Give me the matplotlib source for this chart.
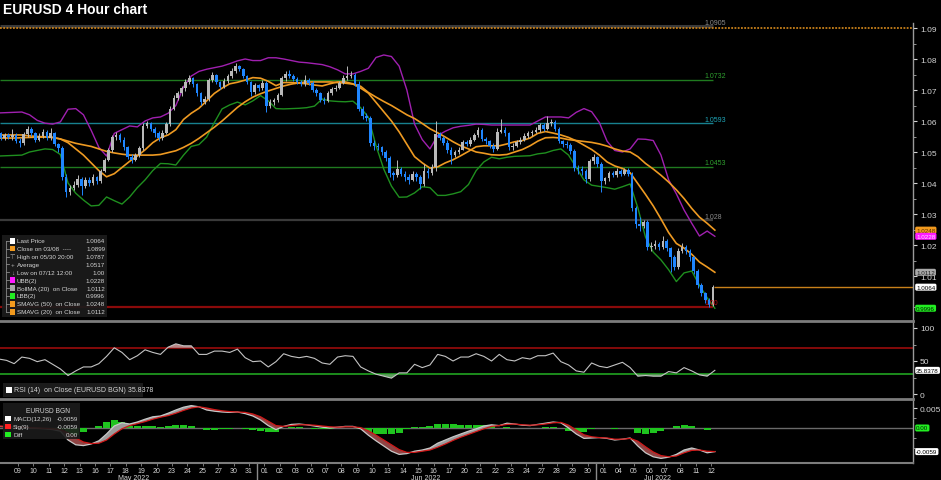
import numpy as np
import matplotlib
matplotlib.use("Agg")
import matplotlib.pyplot as plt
import matplotlib.transforms as mtransforms
from matplotlib.collections import LineCollection
from matplotlib.patches import Rectangle

plt.rcParams['font.family'] = ['Liberation Sans', 'DejaVu Sans']

# ----------------------------------------------------------------- data
TITLE = "EURUSD 4 Hour chart"
DAY_LABELS = ["09", "10", "11", "12", "13", "16", "17", "18", "19", "20", "23", "24", "25", "27", "30", "31",
              "01", "02", "03", "06", "07", "08", "09", "10", "13", "14", "15", "16", "17", "20", "21", "22",
              "23", "24", "27", "28", "29", "30",
              "01", "04", "05", "06", "07", "08", "11", "12"]
MONTH_LABELS = ["May 2022", "Jun 2022", "Jul 2022"]
MONTH_START = [0, 16, 38]          # index of first labelled session of each month
FIRST_DAY = -1                     # bars start one session before the first label

OPEN0 = 1.0552
CLOSE = [
    1.0560, 1.0545, 1.0555, 1.0548,   # May 06
    1.0555, 1.0535, 1.0528, 1.0558,   # May 09
    1.0575, 1.0560, 1.0540, 1.0552,
    1.0565, 1.0545, 1.0560, 1.0525,
    1.0512, 1.0420, 1.0372, 1.0385,
    1.0395, 1.0412, 1.0390, 1.0410,
    1.0400, 1.0418, 1.0405, 1.0438,
    1.0475, 1.0505, 1.0548, 1.0555,
    1.0540, 1.0515, 1.0485, 1.0475,
    1.0490, 1.0512, 1.0585, 1.0592,
    1.0575, 1.0560, 1.0545, 1.0562,
    1.0590, 1.0640, 1.0675, 1.0690,
    1.0705, 1.0725, 1.0738, 1.0718,
    1.0690, 1.0660, 1.0672, 1.0732,
    1.0748, 1.0725, 1.0710, 1.0730,
    1.0745, 1.0762, 1.0778, 1.0768,
    1.0745, 1.0725, 1.0692, 1.0715,
    1.0705, 1.0722, 1.0650, 1.0662,   # Jun 01
    1.0668, 1.0685, 1.0738, 1.0752,
    1.0745, 1.0735, 1.0725, 1.0720,
    1.0732, 1.0722, 1.0700, 1.0690,
    1.0668, 1.0665, 1.0690, 1.0702,
    1.0708, 1.0722, 1.0740, 1.0745,
    1.0750, 1.0720, 1.0640, 1.0615,
    1.0610, 1.0528, 1.0520, 1.0515,
    1.0500, 1.0480, 1.0432, 1.0425,
    1.0445, 1.0430, 1.0420, 1.0410,
    1.0430, 1.0418, 1.0398, 1.0440,
    1.0432, 1.0452, 1.0558, 1.0545,
    1.0530, 1.0508, 1.0490, 1.0500,
    1.0508, 1.0532, 1.0525, 1.0540,
    1.0555, 1.0572, 1.0542, 1.0535,
    1.0520, 1.0510, 1.0565, 1.0572,
    1.0560, 1.0515, 1.0520, 1.0532,
    1.0540, 1.0552, 1.0560, 1.0565,
    1.0572, 1.0588, 1.0575, 1.0592,
    1.0598, 1.0575, 1.0535, 1.0525,
    1.0522, 1.0502, 1.0450, 1.0445,
    1.0438, 1.0412, 1.0470, 1.0485,
    1.0460, 1.0405, 1.0415, 1.0432,   # Jul 01
    1.0425, 1.0438, 1.0430, 1.0442,
    1.0430, 1.0318, 1.0268, 1.0262,
    1.0275, 1.0192, 1.0196, 1.0202,
    1.0195, 1.0212, 1.0190, 1.0160,
    1.0128, 1.0182, 1.0195, 1.0180,
    1.0160, 1.0115, 1.0070, 1.0045,
    1.0022, 1.0008, 1.0064,           # Jul 12
]
HIGH = [
    1.0572, 1.0565, 1.0562, 1.0560,
    1.0575, 1.0560, 1.0545, 1.0565,
    1.0585, 1.0580, 1.0565, 1.0560,
    1.0575, 1.0570, 1.0578, 1.0565,
    1.0530, 1.0518, 1.0428, 1.0392,
    1.0405, 1.0425, 1.0418, 1.0420,
    1.0420, 1.0428, 1.0422, 1.0445,
    1.0482, 1.0512, 1.0555, 1.0565,
    1.0560, 1.0548, 1.0520, 1.0495,
    1.0498, 1.0520, 1.0592, 1.0600,
    1.0598, 1.0582, 1.0568, 1.0570,
    1.0598, 1.0648, 1.0685, 1.0697,
    1.0712, 1.0735, 1.0748, 1.0742,
    1.0722, 1.0695, 1.0680, 1.0740,
    1.0758, 1.0752, 1.0730, 1.0738,
    1.0752, 1.0770, 1.0787, 1.0782,
    1.0772, 1.0750, 1.0730, 1.0722,
    1.0720, 1.0732, 1.0728, 1.0670,
    1.0675, 1.0690, 1.0745, 1.0760,
    1.0764, 1.0752, 1.0742, 1.0732,
    1.0750, 1.0740, 1.0728, 1.0705,
    1.0695, 1.0678, 1.0698, 1.0710,
    1.0715, 1.0730, 1.0748, 1.0778,
    1.0762, 1.0755, 1.0728, 1.0648,
    1.0625, 1.0615, 1.0540, 1.0530,
    1.0520, 1.0508, 1.0488, 1.0440,
    1.0475, 1.0452, 1.0440, 1.0430,
    1.0438, 1.0435, 1.0425, 1.0462,
    1.0450, 1.0462, 1.0600, 1.0565,
    1.0552, 1.0538, 1.0515, 1.0508,
    1.0515, 1.0540, 1.0538, 1.0548,
    1.0562, 1.0582, 1.0578, 1.0550,
    1.0540, 1.0528, 1.0578, 1.0606,
    1.0580, 1.0565, 1.0528, 1.0540,
    1.0548, 1.0560, 1.0568, 1.0572,
    1.0580, 1.0595, 1.0592, 1.0615,
    1.0605, 1.0602, 1.0580, 1.0540,
    1.0535, 1.0528, 1.0510, 1.0458,
    1.0455, 1.0445, 1.0478, 1.0492,
    1.0488, 1.0468, 1.0420, 1.0440,
    1.0440, 1.0448, 1.0445, 1.0450,
    1.0450, 1.0435, 1.0325, 1.0290,
    1.0282, 1.0280, 1.0210, 1.0215,
    1.0210, 1.0228, 1.0220, 1.0195,
    1.0168, 1.0190, 1.0205, 1.0200,
    1.0188, 1.0165, 1.0122, 1.0078,
    1.0050, 1.0030, 1.0072,
]
LOW = [
    1.0545, 1.0538, 1.0540, 1.0542,
    1.0540, 1.0528, 1.0515, 1.0522,
    1.0550, 1.0552, 1.0532, 1.0535,
    1.0545, 1.0538, 1.0540, 1.0518,
    1.0500, 1.0410, 1.0355, 1.0362,
    1.0378, 1.0388, 1.0360, 1.0385,
    1.0390, 1.0395, 1.0398, 1.0400,
    1.0435, 1.0470, 1.0500, 1.0540,
    1.0532, 1.0505, 1.0478, 1.0465,
    1.0470, 1.0485, 1.0505, 1.0578,
    1.0568, 1.0550, 1.0535, 1.0540,
    1.0558, 1.0585, 1.0635, 1.0668,
    1.0682, 1.0698, 1.0718, 1.0710,
    1.0682, 1.0652, 1.0655, 1.0665,
    1.0725, 1.0718, 1.0702, 1.0705,
    1.0722, 1.0740, 1.0755, 1.0760,
    1.0738, 1.0718, 1.0682, 1.0688,
    1.0698, 1.0700, 1.0630, 1.0642,
    1.0652, 1.0660, 1.0680, 1.0730,
    1.0738, 1.0728, 1.0718, 1.0712,
    1.0712, 1.0715, 1.0692, 1.0682,
    1.0660, 1.0654, 1.0660, 1.0685,
    1.0698, 1.0702, 1.0718, 1.0732,
    1.0738, 1.0712, 1.0632, 1.0605,
    1.0600, 1.0520, 1.0505, 1.0505,
    1.0490, 1.0470, 1.0420, 1.0410,
    1.0418, 1.0422, 1.0405, 1.0398,
    1.0405, 1.0405, 1.0380, 1.0390,
    1.0415, 1.0425, 1.0440, 1.0538,
    1.0522, 1.0498, 1.0460, 1.0485,
    1.0495, 1.0505, 1.0518, 1.0520,
    1.0535, 1.0550, 1.0535, 1.0525,
    1.0512, 1.0500, 1.0505, 1.0560,
    1.0552, 1.0508, 1.0505, 1.0515,
    1.0525, 1.0535, 1.0545, 1.0552,
    1.0560, 1.0565, 1.0568, 1.0570,
    1.0585, 1.0568, 1.0528, 1.0515,
    1.0512, 1.0495, 1.0440, 1.0430,
    1.0425, 1.0400, 1.0405, 1.0462,
    1.0452, 1.0372, 1.0398, 1.0408,
    1.0418, 1.0420, 1.0422, 1.0425,
    1.0422, 1.0310, 1.0255, 1.0245,
    1.0255, 1.0185, 1.0180, 1.0188,
    1.0185, 1.0188, 1.0182, 1.0112,
    1.0120, 1.0122, 1.0175, 1.0172,
    1.0150, 1.0105, 1.0062, 1.0035,
    1.0012, 1.0000, 1.0002,
]

# indicator readings, two per session (from the session before May 09 to Jul 12)
UBB = [1.0626, 1.0627, 1.0628, 1.0629, 1.0620, 1.0602, 1.0593, 1.0590, 1.0597, 1.0638,
       1.0640, 1.0620, 1.0570, 1.0515, 1.0487, 1.0560, 1.0572, 1.0584, 1.0581, 1.0600,
       1.0610, 1.0613, 1.0625, 1.0650, 1.0710, 1.0745, 1.0760, 1.0767, 1.0772, 1.0777,
       1.0785, 1.0794, 1.0800, 1.0795, 1.0795, 1.0804, 1.0804, 1.0800, 1.0795, 1.0790,
       1.0788, 1.0785, 1.0782, 1.0775, 1.0765, 1.0752, 1.0752, 1.0760, 1.0770, 1.0805,
       1.0813, 1.0808, 1.0777, 1.0700, 1.0590, 1.0540, 1.0510, 1.0553, 1.0567, 1.0578,
       1.0583, 1.0586, 1.0590, 1.0589, 1.0587, 1.0587, 1.0587, 1.0587, 1.0587, 1.0587,
       1.0600, 1.0613, 1.0613, 1.0613, 1.0610, 1.0628, 1.0640, 1.0630, 1.0595, 1.0535,
       1.0505, 1.0500, 1.0510, 1.0542, 1.0541, 1.0537, 1.0490, 1.0410, 1.0365, 1.0313,
       1.0270, 1.0229, 1.0245, 1.0228]
LBB = [1.0487, 1.0488, 1.0489, 1.0490, 1.0500, 1.0505, 1.0510, 1.0508, 1.0492, 1.0400,
       1.0367, 1.0345, 1.0326, 1.0328, 1.0355, 1.0343, 1.0332, 1.0355, 1.0385, 1.0410,
       1.0440, 1.0463, 1.0462, 1.0458, 1.0490, 1.0518, 1.0524, 1.0548, 1.0595, 1.0639,
       1.0652, 1.0661, 1.0652, 1.0665, 1.0682, 1.0665, 1.0640, 1.0639, 1.0640, 1.0641,
       1.0643, 1.0648, 1.0671, 1.0665, 1.0663, 1.0662, 1.0664, 1.0643, 1.0612, 1.0520,
       1.0445, 1.0390, 1.0354, 1.0355, 1.0368, 1.0388, 1.0385, 1.0360, 1.0360, 1.0365,
       1.0372, 1.0395, 1.0440, 1.0468, 1.0483, 1.0478, 1.0483, 1.0486, 1.0487, 1.0488,
       1.0494, 1.0497, 1.0505, 1.0510, 1.0490, 1.0450, 1.0410, 1.0393, 1.0389, 1.0385,
       1.0380, 1.0388, 1.0397, 1.0320, 1.0225, 1.0177, 1.0152, 1.0120, 1.0082, 1.0110,
       1.0116, 1.0070, 1.0030, 0.9996]
SMA20 = [1.0555, 1.0555, 1.0555, 1.0555, 1.0552, 1.0550, 1.0549, 1.0547, 1.0542, 1.0530,
         1.0510, 1.0490, 1.0465, 1.0440, 1.0420, 1.0430, 1.0450, 1.0470, 1.0487, 1.0507,
         1.0530, 1.0546, 1.0555, 1.0572, 1.0605, 1.0625, 1.0641, 1.0665, 1.0689, 1.0706,
         1.0720, 1.0725, 1.0732, 1.0740, 1.0738, 1.0728, 1.0714, 1.0724, 1.0724, 1.0722,
         1.0720, 1.0716, 1.0713, 1.0720, 1.0726, 1.0726, 1.0720, 1.0706, 1.0690, 1.0660,
         1.0630, 1.0600, 1.0565, 1.0525, 1.0485, 1.0465, 1.0448, 1.0452, 1.0465, 1.0475,
         1.0488, 1.0502, 1.0517, 1.0520, 1.0520, 1.0520, 1.0526, 1.0533, 1.0537, 1.0545,
         1.0560, 1.0566, 1.0561, 1.0555, 1.0547, 1.0536, 1.0522, 1.0508, 1.0490, 1.0468,
         1.0455, 1.0447, 1.0433, 1.0398, 1.0363, 1.0326, 1.0284, 1.0240, 1.0205, 1.0190,
         1.0170, 1.0145, 1.0129, 1.0112]
SMA50 = [1.0545, 1.0545, 1.0545, 1.0546, 1.0547, 1.0548, 1.0548, 1.0547, 1.0542, 1.0535,
         1.0528, 1.0523, 1.0518, 1.0510, 1.0502, 1.0497, 1.0493, 1.0490, 1.0490, 1.0490,
         1.0490, 1.0492, 1.0498, 1.0504, 1.0515, 1.0528, 1.0544, 1.0562, 1.0580, 1.0600,
         1.0622, 1.0644, 1.0662, 1.0677, 1.0688, 1.0697, 1.0705, 1.0713, 1.0719, 1.0723,
         1.0726, 1.0726, 1.0726, 1.0726, 1.0724, 1.0722, 1.0719, 1.0712, 1.0692, 1.0677,
         1.0663, 1.0650, 1.0635, 1.0620, 1.0608, 1.0592, 1.0575, 1.0562, 1.0548, 1.0533,
         1.0520, 1.0510, 1.0500, 1.0496, 1.0491, 1.0490, 1.0492, 1.0500, 1.0508, 1.0520,
         1.0535, 1.0546, 1.0547, 1.0545, 1.0540, 1.0537, 1.0534, 1.0531, 1.0526, 1.0519,
         1.0510, 1.0503, 1.0500, 1.0485, 1.0463, 1.0445, 1.0425, 1.0403, 1.0378, 1.0350,
         1.0318, 1.0290, 1.0270, 1.0248]
RSI = [53, 51, 46, 56, 54, 49, 52, 45, 38, 28,
       35, 41, 41, 46, 57, 70, 63, 52, 58, 67,
       63, 60, 71, 76, 73, 73, 60, 60, 65, 65,
       63, 68, 55, 49, 50, 41, 49, 61, 57, 55,
       57, 54, 47, 45, 56, 58, 57, 41, 35, 30,
       27, 24, 32, 32, 45, 40, 44, 60, 57, 50,
       56, 56, 61, 57, 50, 60, 52, 50, 55, 53,
       58, 58, 62, 49, 44, 35, 33, 47, 42, 40,
       44, 48, 40, 27, 28, 27, 27, 34, 32, 40,
       35, 29, 27, 35.8378]
MACD = [0.0004, 0.0003, 0.0002, 0.0001, 0.0000, -0.0001, -0.0002, -0.0004, -0.0008, -0.0030,
        -0.0042, -0.0044, -0.0040, -0.0032, -0.0015, 0.0005, 0.0013, 0.0010, 0.0015, 0.0022,
        0.0028, 0.0030, 0.0037, 0.0045, 0.0052, 0.0056, 0.0053, 0.0045, 0.0042, 0.0040,
        0.0039, 0.0040, 0.0036, 0.0030, 0.0020, 0.0006, -0.0004, 0.0004, 0.0009, 0.0010,
        0.0008, 0.0005, 0.0002, 0.0000, 0.0002, 0.0004, 0.0004, -0.0002, -0.0018, -0.0032,
        -0.0045, -0.0058, -0.0066, -0.0064, -0.0058, -0.0055, -0.0050, -0.0038, -0.0030, -0.0022,
        -0.0015, -0.0008, -0.0002, 0.0005, 0.0008, 0.0006, 0.0012, 0.0010, 0.0007, 0.0006,
        0.0009, 0.0012, 0.0015, 0.0013, 0.0000, -0.0015, -0.0026, -0.0025, -0.0024, -0.0026,
        -0.0030, -0.0028, -0.0025, -0.0045, -0.0062, -0.0072, -0.0076, -0.0073, -0.0066, -0.0055,
        -0.0050, -0.0055, -0.0062, -0.0059]
SIG = [0.0005, 0.0004, 0.0003, 0.0002, 0.0001, 0.0000, -0.0001, -0.0002, -0.0004, -0.0012,
       -0.0025, -0.0035, -0.0039, -0.0038, -0.0030, -0.0015, -0.0002, 0.0006, 0.0011, 0.0016,
       0.0022, 0.0027, 0.0031, 0.0037, 0.0044, 0.0050, 0.0053, 0.0050, 0.0046, 0.0043,
       0.0041, 0.0040, 0.0039, 0.0035, 0.0028, 0.0017, 0.0006, 0.0004, 0.0006, 0.0008,
       0.0008, 0.0007, 0.0005, 0.0003, 0.0002, 0.0003, 0.0003, 0.0001, -0.0007, -0.0018,
       -0.0030, -0.0042, -0.0054, -0.0061, -0.0061, -0.0058, -0.0055, -0.0048, -0.0040, -0.0031,
       -0.0023, -0.0016, -0.0009, -0.0002, 0.0004, 0.0006, 0.0009, 0.0010, 0.0008, 0.0007,
       0.0008, 0.0010, 0.0013, 0.0014, 0.0007, -0.0005, -0.0017, -0.0022, -0.0024, -0.0025,
       -0.0028, -0.0028, -0.0026, -0.0033, -0.0047, -0.0060, -0.0069, -0.0072, -0.0070, -0.0062,
       -0.0056, -0.0055, -0.0058, -0.0059]

LEVEL_VALUES = [1.0905, 1.0732, 1.0593, 1.0453, 1.028, 1.00]
LEVEL_LABELS = ["1.0905", "1.0732", "1.0593", "1.0453", "1.028", "1.00"]
CLOSE_0308 = 1.0899
LAST_PRICE = 1.0064
RSI_HI, RSI_LO = 70, 30

LEG_NAMES = ["Last Price", "Close on 03/08  ----", "High on 05/30 20:00", "Average",
             "Low on 07/12 12:00", "UBB(2)", "BollMA (20)  on Close", "LBB(2)",
             "SMAVG (50)  on Close", "SMAVG (20)  on Close"]
LEG_VALUES = ["1.0064", "1.0899", "1.0787", "1.0517", "1.00", "1.0228", "1.0112",
              "0.9996", "1.0248", "1.0112"]
RSI_LEGEND = "RSI (14)  on Close (EURUSD BGN) 35.8378"
MACD_TITLE = "EURUSD BGN"
MACD_NAMES = ["MACD(12,26)", "Sig(9)", "Diff"]
MACD_VALUES = ["-0.0059", "-0.0059", "0.00"]

MAIN_TICKS = [1.01, 1.02, 1.03, 1.04, 1.05, 1.06, 1.07, 1.08, 1.09]
RSI_TICKS = [0, 50, 100]
MACD_TICKS = [0.005]
MAIN_TAGS = [(1.0248, "1.0248"), (1.0228, "1.0228"), (1.0112, "1.0112"),
             (1.0064, "1.0064"), (0.9996, "0.9996")]
RSI_TAG = (35.8378, "35.8378")
MACD_TAGS = [(0.0, "0.00"), (-0.0059, "-0.0059")]

# ----------------------------------------------------------------- layout / style
W, H = 941, 481
PLOT_R = 913
X0PX, DAYPX = 18.0, 15.4
XL = (-X0PX / DAYPX, (PLOT_R - X0PX) / DAYPX)
TXT = '#d4d4d4'
UP_C, DN_C = '#b9b9b9', '#1f86ff'
ORANGE = '#ee9a22'
PURPLE = '#a020b0'
GREEN_L = '#1f8f1f'


def fx(px):
    return px / W


def fy(py):
    return 1 - py / H


fig = plt.figure(figsize=(W / 100, H / 100), dpi=100, facecolor='black')


def panel(top, bottom):
    a = fig.add_axes([0, fy(bottom), fx(PLOT_R), (bottom - top) / H])
    a.set_facecolor('black')
    for s in ('left', 'top', 'bottom'):
        a.spines[s].set_visible(False)
    a.spines['right'].set_color('#9a9a9a')
    a.spines['right'].set_linewidth(1.0)
    a.yaxis.tick_right()
    a.tick_params(axis='y', which='major', length=3, width=0.8, colors=TXT,
                  labelsize=6, pad=2)
    a.tick_params(axis='y', which='minor', length=2, width=0.6, colors='#aaaaaa')
    return a


# price mapping of main panel: 1.09 at px 29, 0.01 per 31 px
def ppx(y):
    return 1.09 - (y - 29) / 3100.0


ax = panel(24, 322)
axr = panel(322, 400)
axm = panel(400, 464)

for a in (axr, axm):
    a.spines['top'].set_visible(True)
    a.spines['top'].set_color('#7c7c7c')
    a.spines['top'].set_linewidth(2.0)
axm.spines['bottom'].set_visible(True)
axm.spines['bottom'].set_color('#7c7c7c')
axm.spines['bottom'].set_linewidth(1.5)

# ticks (limits are set afterwards so ticks cannot widen them)
ax.set_yticks(MAIN_TICKS)
ax.set_yticklabels([f"{v:.2f}" for v in MAIN_TICKS])
ax.set_yticks([1.00] + [round(v + 0.005, 3) for v in MAIN_TICKS[:-1]], minor=True)
axr.set_yticks(RSI_TICKS)
axr.set_yticks([25, 75], minor=True)
axm.set_yticks(MACD_TICKS)
axm.set_yticklabels(["0.005"])
axm.set_yticks([-0.005, -0.0025, 0.0025], minor=True)
ax.set_xticks([])
axr.set_xticks([])
axm.set_xticks(np.arange(len(DAY_LABELS)))
axm.set_xticklabels(DAY_LABELS)
axm.tick_params(axis='x', length=2, width=0.6, colors='#8a8a8a', labelcolor=TXT,
                labelsize=5, pad=1.2)

for a in (ax, axr, axm):
    a.set_xlim(*XL)
ax.set_ylim(ppx(322), ppx(24))
axr.set_ylim(50 - (400 - 362) / 0.66, 50 + (362 - 322) / 0.66)
axm.set_ylim((429 - 464) / 4000.0, (429 - 400) / 4000.0)

# ----------------------------------------------------------------- main panel
ix = FIRST_DAY - 0.25 + 0.5 * np.arange(len(UBB))
close = np.array(CLOSE)
opens = np.r_[OPEN0, close[:-1]]
hi, lo = np.array(HIGH), np.array(LOW)
bx = FIRST_DAY - 0.375 + 0.25 * np.arange(len(close))
up = close >= opens
cols = np.where(up, UP_C, DN_C)

# level lines
lvl_line_c = ['#3a3a3a', '#1f7a1f', '#17818f', '#1f7a1f', '#3a3a3a', '#8a0a0a']
lvl_text_c = ['#8a8a8a', '#2f9f2f', '#1fa6b8', '#2f9f2f', '#8a8a8a', '#c01010']
lvl_lw = [2.2, 1.0, 1.0, 1.0, 1.6, 1.6]
for v, lab, lc, tc, lw in zip(LEVEL_VALUES, LEVEL_LABELS, lvl_line_c, lvl_text_c, lvl_lw):
    ax.hlines(v, XL[0], 45.1, color=lc, lw=lw, zorder=1.5)
    ax.text(44.55, v + 0.0002, lab, color=tc, fontsize=5, va='bottom', ha='left', zorder=6)

ax.axhline(CLOSE_0308, color='#c8801a', lw=1.3, ls=(0, (1, 0.8)), zorder=1.6)
ax.hlines(LAST_PRICE, bx[-1] + 0.1, XL[1], color='#c8801a', lw=1.0, zorder=1.6)

ax.plot(ix, UBB, color=PURPLE, lw=1.0, zorder=2)
ax.plot(ix, LBB, color=GREEN_L, lw=1.0, zorder=2)
ax.plot(ix, SMA50, color=ORANGE, lw=1.2, zorder=2)
ax.plot(ix, SMA20, color=ORANGE, lw=1.2, zorder=2)

segs = [[(x, l), (x, h)] for x, l, h in zip(bx, lo, hi)]
ax.add_collection(LineCollection(segs, colors=cols, linewidths=0.7, zorder=3))
body = np.maximum(np.abs(close - opens), 0.00018)
ax.bar(bx, body, bottom=np.minimum(close, opens), width=0.17, color=cols,
       linewidth=0, zorder=3.2)
ax.set_ylim(ppx(322), ppx(24))


def tag(a, y, text, fc, tc):
    tr = mtransforms.blended_transform_factory(a.transAxes, a.transData)
    a.text(1.0035, y, text, transform=tr, fontsize=4.5, color=tc, ha='left', va='center',
           clip_on=False, zorder=20,
           bbox=dict(boxstyle='round,pad=0.16,rounding_size=0.25', fc=fc, ec='none'))


tag_styles = [('#f29a1e', '#5a3000'), ('#ff1aff', '#ffe0ff'), ('#a8a8a8', '#202020'),
              ('#ffffff', '#000000'), ('#22ee22', '#002000')]
for (v, t), (fc, tc) in zip(MAIN_TAGS, tag_styles):
    tag(ax, v, t, fc, tc)

# legend (main)
fig.patches.append(Rectangle((fx(2), fy(318)), fx(105), 82 / H, transform=fig.transFigure,
                             fc='#1b1b1b', ec='none', alpha=0.93, zorder=5))
row_y = 241.7 + 7.9 * np.arange(len(LEG_NAMES))
fig.add_artist(plt.Line2D([fx(5.5), fx(5.5)], [fy(row_y[0]), fy(row_y[-1])],
                          transform=fig.transFigure, color='#8a8a8a', lw=0.6, zorder=6))
sw_cols = ['#ffffff', '#f29a1e', None, None, None, '#ff1aff', '#a8a8a8', '#22ee22',
           '#f29a1e', '#f29a1e']
glyphs = [None, None, '\u22a4', '+', '\u2193', None, None, None, None, None]
for i, (nm, vl) in enumerate(zip(LEG_NAMES, LEG_VALUES)):
    yy = row_y[i]
    fig.add_artist(plt.Line2D([fx(5.5), fx(8.5)], [fy(yy), fy(yy)], transform=fig.transFigure,
                              color='#8a8a8a', lw=0.6, zorder=6))
    if sw_cols[i]:
        fig.patches.append(Rectangle((fx(9.5), fy(yy + 2.8)), fx(5.6), 5.6 / H,
                                     transform=fig.transFigure, fc=sw_cols[i], ec='none',
                                     zorder=7))
    else:
        fig.text(fx(12.3), fy(yy), glyphs[i], color='#b0b0b0', fontsize=4.6,
                 ha='center', va='center', zorder=7)
    fig.text(fx(16.7), fy(yy), nm, color=TXT, fontsize=4.5, ha='left', va='center', zorder=7)
    fig.text(fx(105), fy(yy), vl, color=TXT, fontsize=4.5, ha='right', va='center', zorder=7)

# ----------------------------------------------------------------- RSI panel
rsi = np.array(RSI, dtype=float)
axr.axhline(RSI_HI, color='#a80c0c', lw=1.1, zorder=1)
axr.axhline(RSI_LO, color='#1c8c1c', lw=1.4, zorder=1)
axr.fill_between(ix, rsi, RSI_HI, where=rsi >= RSI_HI, interpolate=True,
                 color='#b98686', lw=0, zorder=2)
axr.fill_between(ix, rsi, RSI_LO, where=rsi <= RSI_LO, interpolate=True,
                 color='#5e9e5e', lw=0, zorder=2)
axr.plot(ix, rsi, color='#c4c4c4', lw=0.8, zorder=3)
tag(axr, RSI_TAG[0], RSI_TAG[1], '#ffffff', '#000000')
fig.patches.append(Rectangle((fx(3), fy(398)), fx(140), 14 / H, transform=fig.transFigure,
                             fc='#1b1b1b', ec='none', zorder=5))
fig.patches.append(Rectangle((fx(6), fy(393.8)), fx(5.6), 5.6 / H, transform=fig.transFigure,
                             fc='#ffffff', ec='none', zorder=7))
fig.text(fx(14), fy(391), RSI_LEGEND, color=TXT, fontsize=5, ha='left', va='center', zorder=7)

# ----------------------------------------------------------------- MACD panel
macd, sig = np.array(MACD), np.array(SIG)
axm.axhline(0, color='#6a6a6a', lw=1.0, zorder=1)
axm.bar(ix, macd - sig, width=0.46, color='#1fc41f', linewidth=0, zorder=2)
axm.fill_between(ix, macd, sig, where=macd >= sig, interpolate=True, color='#9c9c9c',
                 lw=0, zorder=3)
axm.fill_between(ix, macd, sig, where=macd < sig, interpolate=True, color='#8f4444',
                 lw=0, zorder=3)
axm.plot(ix, macd, color='#c8c8c8', lw=0.9, zorder=4)
axm.plot(ix, sig, color='#d01818', lw=0.9, zorder=4)
axm.set_ylim((429 - 464) / 4000.0, (429 - 400) / 4000.0)
for (v, t), (fc, tc) in zip(MACD_TAGS, [('#22ee22', '#002000'), ('#ffffff', '#000000')]):
    tag(axm, v, t, fc, tc)

fig.patches.append(Rectangle((fx(3), fy(440)), fx(77), 36 / H, transform=fig.transFigure,
                             fc='#1b1b1b', ec='none', alpha=0.9, zorder=5))
fig.text(fx(48), fy(411.5), MACD_TITLE, color=TXT, fontsize=4.8, ha='center', va='center', zorder=7)
for i, (nm, vl, sc) in enumerate(zip(MACD_NAMES, MACD_VALUES, ['#ffffff', '#ff2020', '#22ee22'])):
    yy = 419.5 + 8 * i
    fig.patches.append(Rectangle((fx(5), fy(yy + 2.8)), fx(5.6), 5.6 / H,
                                 transform=fig.transFigure, fc=sc, ec='none', zorder=7))
    fig.text(fx(13), fy(yy), nm, color=TXT, fontsize=4.5, ha='left', va='center', zorder=7)
    fig.text(fx(78), fy(yy), vl, color=TXT, fontsize=4.5, ha='right', va='center', zorder=7)

# month labels & separators
trm = mtransforms.blended_transform_factory(axm.transData, axm.transAxes)
ends = MONTH_START[1:] + [len(DAY_LABELS)]
for lab, s, e in zip(MONTH_LABELS, MONTH_START, ends):
    left = max(s - 0.5, XL[0])
    axm.text((left + e - 0.5) / 2, (464 - 478) / 64, lab, transform=trm, color=TXT,
             fontsize=5, ha='center', va='center', clip_on=False)
for s in MONTH_START[1:]:
    axm.plot([s - 0.5, s - 0.5], [0, -0.3], transform=trm, color='#8a8a8a', lw=1.0,
             clip_on=False)

# title
fig.text(fx(3), fy(10.5), TITLE, color='white', fontsize=10, fontweight='bold',
         ha='left', va='center')

fig.savefig('out.png', dpi=100, facecolor='black')
